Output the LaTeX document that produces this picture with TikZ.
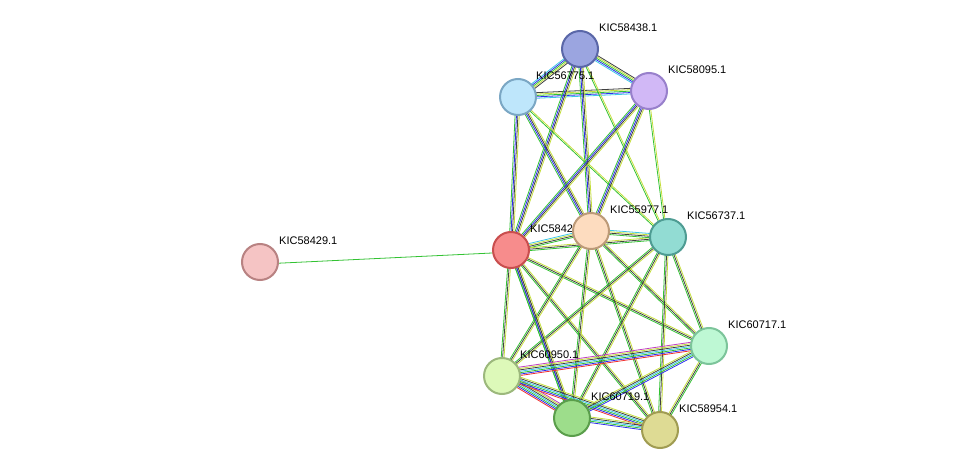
\documentclass[tikz,border=0pt]{standalone}
\usepackage{fontspec}
\setmainfont{Liberation Sans}
\usetikzlibrary{calc}
\definecolor{cgreen}{HTML}{33C233}
\definecolor{cblue}{HTML}{2D2DF0}
\definecolor{cblack}{HTML}{404040}
\definecolor{cyellow}{HTML}{C4DE3C}
\definecolor{ccyan}{HTML}{3CC6E6}
\definecolor{cred}{HTML}{F03030}
\definecolor{cmag}{HTML}{C040C0}
\tikzset{
  prot/.style={circle, minimum size=36pt, inner sep=0pt, line width=2pt},
  plabel/.style={anchor=west, font=\fontsize{11}{13}\selectfont, inner sep=0pt},
}
% bundle of parallel lines from node to node
\newcommand\link[3]{%
  \foreach \c [count=\i] in {#3} {%
    \draw[\c, line width=0.8pt] ($(#1)!{(\i-2.5)*1.4pt}!90:(#2)$) -- ($(#2)!{(\i-2.5)*1.4pt}!-90:(#1)$);
  }}
\begin{document}
\begin{tikzpicture}[x=1pt,y=-1pt]
  \useasboundingbox (0,0) rectangle (975,476);
  \coordinate (a) at (580,49);   % KIC58438.1
  \coordinate (b) at (518,97);   % KIC56775.1
  \coordinate (c) at (649,91);   % KIC58095.1
  \coordinate (d) at (511,250);  % KIC5842
  \coordinate (e) at (591,231);  % KIC55977.1
  \coordinate (f) at (668,237);  % KIC56737.1
  \coordinate (g) at (260,262);  % KIC58429.1
  \coordinate (h) at (709,346);  % KIC60717.1
  \coordinate (i) at (502,376);  % KIC60950.1
  \coordinate (j) at (572,418);  % KIC60719.1
  \coordinate (k) at (660,430);  % KIC58954.1

  % top cluster
  \link{a}{b}{ccyan,cblue,cgreen,cyellow,cblack}
  \link{a}{c}{ccyan,cblue,cgreen,cyellow,cblack}
  \link{b}{c}{ccyan,cblue,cgreen,cyellow,cblack}
  \foreach \s in {a,b,c} {
    \link{\s}{d}{cgreen,cblue,cblack,cyellow}
    \link{\s}{e}{cgreen,cblue,cblack,cyellow}
    \link{\s}{f}{cgreen,cyellow}
  }
  \link{g}{d}{cgreen}
  % middle
  \link{d}{e}{cgreen,cblack,cyellow,ccyan}
  \link{d}{f}{cgreen,cblack,cyellow}
  \link{e}{f}{cgreen,cblack,cyellow,ccyan}
  % middle to bottom
  \foreach \s in {d,e,f} {
    \foreach \t in {h,i,j,k} {
      \link{\s}{\t}{cgreen,cblack,cyellow}
    }
  }
  \link{d}{j}{cgreen,cblue,cblack,cyellow}
  % bottom cluster
  \link{i}{j}{cred,cblue,cgreen,ccyan,cblack,cyellow,cmag}
  \link{i}{k}{cred,cblue,cgreen,ccyan,cblack,cyellow}
  \link{i}{h}{cred,cblue,cgreen,ccyan,cblack,cyellow,cmag}
  \link{j}{h}{cblue,cgreen,ccyan,cblack,cyellow}
  \link{j}{k}{cblue,cgreen,ccyan,cblack,cyellow}
  \link{k}{h}{cgreen,cblack,cyellow}

  % proteins
  \node[prot, fill={rgb,255:red,245;green,196;blue,196}, draw={rgb,255:red,184;green,130;blue,130}] (gn) at (g) {};
  \node[plabel] at ($(g)+(19,-21)$) {KIC58429.1};
  \node[prot, fill={rgb,255:red,155;green,165;blue,224}, draw={rgb,255:red,90;green,103;blue,168}] (an) at (a) {};
  \node[plabel] at ($(a)+(19,-21)$) {KIC58438.1};
  \node[prot, fill={rgb,255:red,190;green,230;blue,251}, draw={rgb,255:red,123;green,167;blue,196}] (bn) at (b) {};
  \node[plabel] at ($(b)+(18,-21)$) {KIC56775.1};
  \node[prot, fill={rgb,255:red,209;green,184;blue,246}, draw={rgb,255:red,152;green,128;blue,203}] (cn) at (c) {};
  \node[plabel] at ($(c)+(19,-21)$) {KIC58095.1};
  \node[prot, fill={rgb,255:red,247;green,140;blue,140}, draw={rgb,255:red,201;green,78;blue,78}] (dn) at (d) {};
  \node[plabel] at ($(d)+(19,-21)$) {KIC58427.1};
  \node[prot, fill={rgb,255:red,253;green,220;blue,191}, draw={rgb,255:red,188;green,154;blue,120}] (en) at (e) {};
  \node[plabel] at ($(e)+(19,-21)$) {KIC55977.1};
  \node[prot, fill={rgb,255:red,146;green,220;blue,211}, draw={rgb,255:red,78;green,156;blue,147}] (fn) at (f) {};
  \node[plabel] at ($(f)+(19,-21)$) {KIC56737.1};
  \node[prot, fill={rgb,255:red,190;green,248;blue,212}, draw={rgb,255:red,124;green,196;blue,154}] (hn) at (h) {};
  \node[plabel] at ($(h)+(19,-21)$) {KIC60717.1};
  \node[prot, fill={rgb,255:red,221;green,249;blue,185}, draw={rgb,255:red,156;green,184;blue,124}] (in) at (i) {};
  \node[plabel] at ($(i)+(18,-21)$) {KIC60950.1};
  \node[prot, fill={rgb,255:red,157;green,221;blue,139}, draw={rgb,255:red,90;green,158;blue,75}] (jn) at (j) {};
  \node[plabel] at ($(j)+(19,-21)$) {KIC60719.1};
  \node[prot, fill={rgb,255:red,222;green,219;blue,148}, draw={rgb,255:red,160;green,156;blue,82}] (kn) at (k) {};
  \node[plabel] at ($(k)+(19,-21)$) {KIC58954.1};
\end{tikzpicture}
\end{document}
